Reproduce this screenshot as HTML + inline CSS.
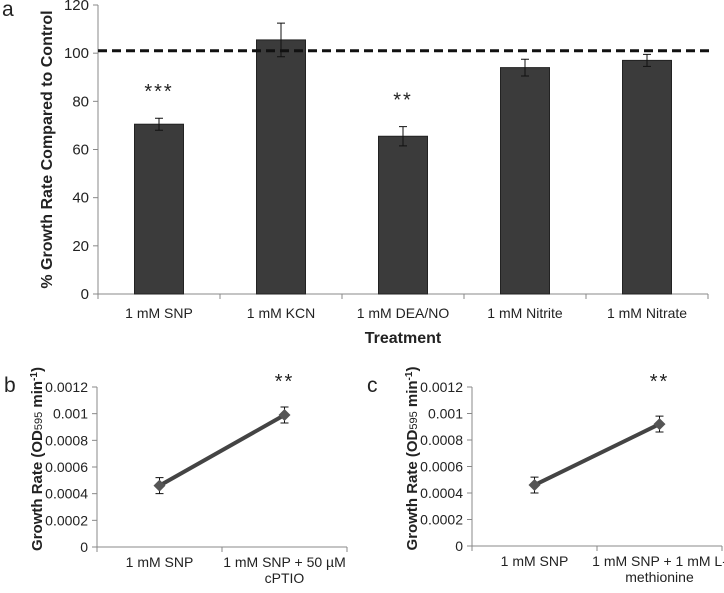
<!DOCTYPE html>
<html><head><meta charset="utf-8"><style>
body{margin:0;background:#fff;font-family:"Liberation Sans",sans-serif}
svg text{font-family:"Liberation Sans","DejaVu Sans",sans-serif}
</style></head><body>
<svg id="s" width="724" height="588" xmlns="http://www.w3.org/2000/svg"></svg>
<script>
const catsA = ["1 mM SNP","1 mM KCN","1 mM DEA/NO","1 mM Nitrite","1 mM Nitrate"];
const valsA = [70.5,105.5,65.5,94,97];
const errsA = [2.5,7,4,3.5,2.5];
const starsA = ["***","","**","",""];
const ticksA = [0,20,40,60,80,100,120];
const controlA = 101;
const catsB = [["1 mM SNP"],["1 mM SNP + 50 µM","cPTIO"]];
const valsB = [0.00046,0.00099];
const errsB = [0.00006,0.00006];
const catsC = [["1 mM SNP"],["1 mM SNP + 1 mM L-","methionine"]];
const valsC = [0.00046,0.00092];
const errsC = [0.00006,0.00006];
const ticksBC = ["0","0.0002","0.0004","0.0006","0.0008","0.001","0.0012"];

const S=document.getElementById('s');const NS="http://www.w3.org/2000/svg";
function el(t,a,p){const e=document.createElementNS(NS,t);for(const k in a)e.setAttribute(k,a[k]);(p||S).appendChild(e);return e;}
function tx(x,y,s,a,p){const e=el('text',Object.assign({x:x,y:y,'font-size':13,fill:'#222'},a),p);e.textContent=s;return e;}

// panel a
{const g=el('g',{});
const x0=98,x1=708,y0=294,y1=5,max=120;
const Y=v=>y0-(v/max)*(y0-y1);const bw=(x1-x0)/catsA.length;const X=i=>x0+bw*(i+0.5);
const t=tx(2,16,'a',{'font-size':21});
el('line',{x1:x0,y1:y1,x2:x0,y2:y0,stroke:'#888'},g);
el('line',{x1:x0,y1:y0,x2:x1,y2:y0,stroke:'#888'},g);
ticksA.forEach(v=>{el('line',{x1:x0-5,y1:Y(v),x2:x0,y2:Y(v),stroke:'#888'},g);
 const l=tx(x0-9,Y(v)+5,String(v),{'text-anchor':'end','font-size':15},g);});
for(let i=0;i<=catsA.length;i++)el('line',{x1:x0+bw*i,y1:y0,x2:x0+bw*i,y2:y0+5,stroke:'#888'},g);
catsA.forEach((c,i)=>{
 const b=el('rect',{x:X(i)-24.5,y:Y(valsA[i]),width:49,height:y0-Y(valsA[i]),fill:'#3b3b3b',stroke:'#222'},g);
 
 const yt=Y(valsA[i]+errsA[i]),yb=Y(valsA[i]-errsA[i]);
 const e=el('path',{d:`M${X(i)} ${yt}V${yb}M${X(i)-4} ${yt}H${X(i)+4}M${X(i)-4} ${yb}H${X(i)+4}`,stroke:'#111',fill:'none'},g);
 
 if(starsA[i]){const s=tx(X(i),Y(valsA[i]+errsA[i])-20,starsA[i],{'text-anchor':'middle','font-size':20,'letter-spacing':'2'},g);}
 const l=tx(X(i),318,c,{'text-anchor':'middle','font-size':14},g);
});
const d=el('line',{x1:x0,y1:Y(controlA),x2:712,y2:Y(controlA),stroke:'#111','stroke-width':3,'stroke-dasharray':'9,5'},g);

const xt=tx(403,343,'Treatment',{'text-anchor':'middle','font-size':16,'font-weight':'bold'},g);
const yt=tx(0,0,'% Growth Rate Compared to Control',{'text-anchor':'middle','font-size':16,'font-weight':'bold',transform:`translate(52,${(y0+y1)/2}) rotate(-90)`},g);
}
function line(name,label,lx,ly,x0,x1,y0,y1,cats,vals,errs){
 const g=el('g',{});
 const max=0.0012;const Y=v=>y0-(v/max)*(y0-y1);const bw=(x1-x0)/cats.length;const X=i=>x0+bw*(i+0.5);
 const t=tx(lx,ly,label,{'font-size':21},g);
 el('line',{x1:x0,y1:y1,x2:x0,y2:y0,stroke:'#888'},g);el('line',{x1:x0,y1:y0,x2:x1,y2:y0,stroke:'#888'},g);
 ticksBC.forEach(s=>{const v=parseFloat(s);el('line',{x1:x0-5,y1:Y(v),x2:x0,y2:Y(v),stroke:'#888'},g);
  const l=tx(x0-9,Y(v)+5,s,{'text-anchor':'end','font-size':14},g);});
 for(let i=0;i<=cats.length;i++)el('line',{x1:x0+bw*i,y1:y0,x2:x0+bw*i,y2:y0+5,stroke:'#888'},g);
 const p=el('polyline',{points:vals.map((v,i)=>X(i)+','+Y(v)).join(' '),stroke:'#444','stroke-width':4,fill:'none'},g);
 
 vals.forEach((v,i)=>{const yt=Y(v+errs[i]),yb=Y(v-errs[i]);
  el('path',{d:`M${X(i)} ${yt}V${yb}M${X(i)-4} ${yt}H${X(i)+4}M${X(i)-4} ${yb}H${X(i)+4}`,stroke:'#111',fill:'none'},g);
  const m=el('path',{d:`M${X(i)} ${Y(v)-6}L${X(i)+6} ${Y(v)}L${X(i)} ${Y(v)+6}L${X(i)-6} ${Y(v)}Z`,fill:'#555'},g);
  
  cats[i].forEach((c,k)=>{const l=tx(X(i),y0+20+k*16,c,{'text-anchor':'middle','font-size':14},g);});
 });
 const s=tx(X(1),y1+1,'**',{'text-anchor':'middle','font-size':20,'letter-spacing':'2'},g);
 const a=el('text',{'text-anchor':'middle','font-size':15,'font-weight':'bold',fill:'#222',transform:`translate(${x0-55},${(y0+y1)/2-8}) rotate(-90)`},g);
 
 a.innerHTML='Growth Rate (OD<tspan font-size="11" font-weight="normal">595</tspan> min<tspan font-size="10" dy="-5">-1</tspan><tspan dy="5">)</tspan>';
}
line('panel-b','b',4,392,97,347,547,387,catsB,valsB,errsB);
line('panel-c','c',367,392,472,722,546,387,catsC,valsC,errsC);
</script>
</body></html>
